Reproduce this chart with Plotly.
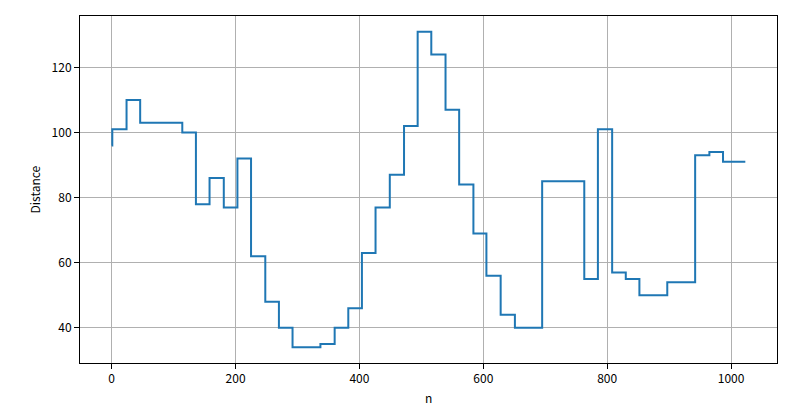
import plotly.graph_objects as go

# Step breakpoints (sample index) and distance values
n_points = [0, 1, 24, 46, 114, 136, 158, 181, 203, 225, 248, 270, 292, 337, 360, 382, 404, 426,
            449, 472, 494, 516, 539, 561, 584, 605, 628, 651, 695, 763, 785, 808, 830, 852, 897,
            942, 965, 987, 1023]
distance = [96, 101, 110, 103, 100, 78, 86, 77, 92, 62, 48, 40, 34, 35, 40, 46, 63, 77,
            87, 102, 131, 124, 107, 84, 69, 56, 44, 40, 85, 55, 101, 57, 55, 50, 54,
            93, 94, 91, 91]

x_ticks = [0, 200, 400, 600, 800, 1000]
y_ticks = [40, 60, 80, 100, 120]

font_family = "Noto Sans CJK SC, DejaVu Sans, sans-serif"

fig = go.Figure()
fig.add_trace(go.Scatter(
    x=n_points, y=distance, mode="lines", line_shape="hv",
    line=dict(color="#1f77b4", width=2), showlegend=False,
))

axis_common = dict(
    showgrid=True, gridcolor="#b0b0b0", gridwidth=1,
    showline=True, linecolor="black", linewidth=1, mirror=True,
    ticks="outside", ticklen=5, tickcolor="black", tickwidth=1,
    zeroline=False, automargin=False,
    tickfont=dict(family=font_family, size=12, color="black"),
)

fig.update_xaxes(range=[-51.15, 1074.15], tickvals=x_ticks, **axis_common)
fig.update_yaxes(range=[29.15, 135.85], tickvals=y_ticks, **axis_common)

fig.add_annotation(text="n", xref="paper", yref="paper", x=0.5, y=-0.098,
                   xanchor="center", yanchor="middle", showarrow=False,
                   font=dict(family=font_family, size=12, color="black"))
fig.add_annotation(text="Distance", xref="paper", yref="paper", x=-0.0646, y=0.5,
                   xanchor="center", yanchor="middle", textangle=-90, showarrow=False,
                   font=dict(family=font_family, size=12, color="black"))

# the page body has an 8px default margin, so the margins are shifted to compensate
fig.update_layout(
    width=800, height=409,
    margin=dict(l=72, r=31, t=8, b=54),
    plot_bgcolor="white", paper_bgcolor="white",
    font=dict(family=font_family, size=12, color="black"),
)

fig.write_html("out.html")
